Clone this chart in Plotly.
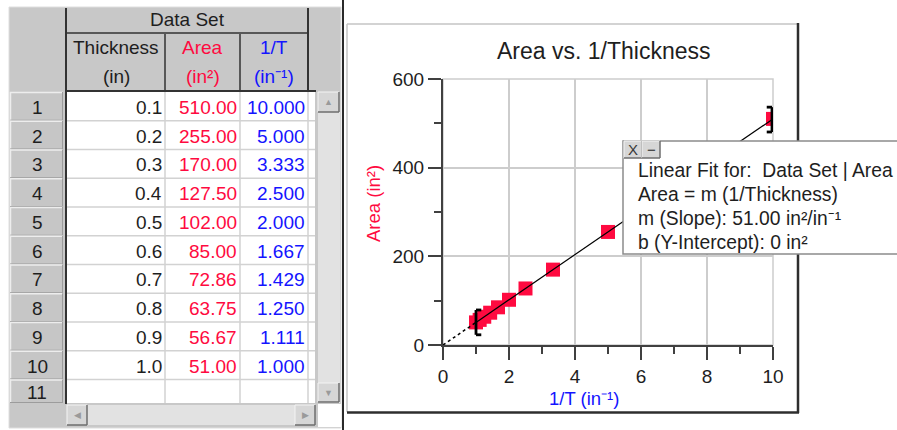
import plotly.graph_objects as go

# ---------------- data set ----------------
thickness = [0.1, 0.2, 0.3, 0.4, 0.5, 0.6, 0.7, 0.8, 0.9, 1.0]
area = [510.00, 255.00, 170.00, 127.50, 102.00, 85.00, 72.86, 63.75, 56.67, 51.00]
inv_t = [10.000, 5.000, 3.333, 2.500, 2.000, 1.667, 1.429, 1.250, 1.111, 1.000]
row_labels = ["1", "2", "3", "4", "5", "6", "7", "8", "9", "10", "11"]
col_names = ["Thickness", "Area", "1/T"]
col_units = ["(in)", "(in²)", "(in⁻¹)"]
x_ticks = [0, 2, 4, 6, 8, 10]
y_ticks = [0, 200, 400, 600]
fit_slope = 51.00
fit_intercept = 0.0

# ---------------- style ----------------
W, H = 897, 430
FONT = "Liberation Sans, Arial, sans-serif"
INK = "#1e1e1e"
RED = "#ff0a40"
BLUE = "#1414ff"
GRAY = "#c8c8c8"
DARK = "#333333"
col_colors = [INK, RED, BLUE]

shapes = []
annotations = []


def px(x):
    return x / W


def py(y):
    return 1 - y / H


def rect(x0, y0, x1, y1, fill="rgba(0,0,0,0)", line="rgba(0,0,0,0)", lw=0, layer="below"):
    shapes.append(dict(type="rect", xref="paper", yref="paper",
                       x0=px(x0), x1=px(x1), y0=py(y1), y1=py(y0),
                       fillcolor=fill, line=dict(color=line, width=lw), layer=layer))


def seg(x0, y0, x1, y1, color, lw=1, layer="below"):
    shapes.append(dict(type="line", xref="paper", yref="paper",
                       x0=px(x0), x1=px(x1), y0=py(y0), y1=py(y1),
                       line=dict(color=color, width=lw), layer=layer))


def label(x, y, text, size=19, color=INK, xanchor="center", angle=0):
    annotations.append(dict(xref="paper", yref="paper", x=px(x), y=py(y), text=text,
                            showarrow=False, xanchor=xanchor, yanchor="middle",
                            textangle=angle, font=dict(family=FONT, size=size, color=color)))


def button(x0, y0, x1, y1, glyph, gsize=9, gcolor="#9a9a9a", layer="below"):
    rect(x0, y0, x1, y1, fill="#d6d6d6", layer=layer)
    seg(x0, y0, x1, y0, "#f4f4f4", 1, layer)
    seg(x0, y0, x0, y1, "#f4f4f4", 1, layer)
    seg(x0, y1, x1, y1, "#6e6e6e", 1.5, layer)
    seg(x1, y0, x1, y1, "#6e6e6e", 1.5, layer)
    label((x0 + x1) / 2, (y0 + y1) / 2, glyph, size=gsize, color=gcolor)


# ---------------- data table ----------------
col_edges = [67, 165, 240, 308]
row_top, row_h = 92, 28.75
row_bounds = [row_top + i * row_h for i in range(len(thickness) + 1)] + [403]

rect(9, 7, 341, 428, fill=GRAY, line="#dedede", lw=1)
rect(67, 92, 315, 403, fill="white")

# body grid
for yb in row_bounds[1:-1]:
    seg(67, yb, 315, yb, "#d2d2d2", 1.5)
for xb in col_edges[1:]:
    seg(xb, 92, xb, 403, "#d2d2d2", 1.5)

# column header lines
seg(67, 33, 308, 33, DARK, 1.5)
for xb in col_edges[1:3]:
    seg(xb, 34, xb, 91, DARK, 1.5)
seg(308, 8, 308, 91, DARK, 2)
seg(65, 91, 316, 91, DARK, 2)
seg(66, 8, 66, 404, DARK, 2)

label(187, 20, "Data Set")
for i, (name, unit, colr) in enumerate(zip(col_names, col_units, col_colors)):
    cx = (col_edges[i] + col_edges[i + 1]) / 2
    label(cx, 47, name, color=colr)
    label(cx, 77, unit, color=colr)

# row header cells
for i, rl in enumerate(row_labels):
    y0, y1 = row_bounds[i], row_bounds[i + 1]
    rect(10, y0, 63, y1, fill="#c6c6c6")
    seg(10, y0 + 0.5, 63, y0 + 0.5, "#ededed", 1.5)
    seg(10.5, y0, 10.5, y1, "#ededed", 1.5)
    seg(10, y1 - 0.5, 63, y1 - 0.5, "#9c9c9c", 1)
    seg(62.5, y0, 62.5, y1, "#9c9c9c", 1)
    label(37, (y0 + y1) / 2 + 1, rl)

# cell values
for i in range(len(thickness)):
    cy = (row_bounds[i] + row_bounds[i + 1]) / 2 + 1
    label(164, cy, f"{thickness[i]:.1f}", color=INK, xanchor="right")
    label(239, cy, f"{area[i]:.2f}", color=RED, xanchor="right")
    label(307, cy, f"{inv_t[i]:.3f}", color=BLUE, xanchor="right")

# scroll bars
rect(318, 92, 340, 403, fill="#e2e2e2")
button(318, 92, 339, 112, "▲")
button(318, 383, 339, 402, "▼")
rect(67, 405, 315, 425, fill="#e2e2e2")
button(67, 405, 87, 425, "◀")
button(295, 405, 315, 425, "▶")
rect(318, 404, 341, 427, fill="white")

# divider between table and graph panels
seg(343, 0, 343, 430, "#2a2a2a", 2)

# ---------------- graph panel ----------------
rect(347, 24, 798, 412, fill="white")
seg(347, 24, 798, 24, "#c4c4c4", 1.5)
seg(347, 24, 347, 412, "#c4c4c4", 1.5)
seg(798, 23, 798, 413, "#2e2e2e", 2.5)
seg(347, 412.5, 799, 412.5, "#2e2e2e", 2.5)
rect(443, 79, 773, 345, line="#cdcdcd", lw=1.5)

label(603, 51, "Area vs. 1/Thickness", size=23)
label(584, 398, "1/T (in⁻¹)", size=18.5, color=BLUE)
label(373, 204, "Area (in²)", size=18.5, color=RED, angle=-90)

# fit range brackets (data coordinates)
x_lo, x_hi = min(inv_t), max(inv_t)
for xb, serif in ((x_lo, 0.16), (x_hi - 0.03, -0.16)):
    yc = fit_slope * xb + fit_intercept
    for (a, b, c, d) in ((xb, yc - 28, xb, yc + 28),
                         (xb, yc - 28, xb + serif, yc - 28),
                         (xb, yc + 28, xb + serif, yc + 28)):
        shapes.append(dict(type="line", xref="x", yref="y", x0=a, y0=b, x1=c, y1=d,
                           line=dict(color="black", width=2.8), layer="above"))

# linear fit readout box
rect(623, 141, 905, 254, fill="white", line="#8c8c8c", lw=1.5, layer="above")
button(624, 141, 642, 158, "X", gsize=15, gcolor="#3a3a3a", layer="above")
button(642, 141, 660, 158, "−", gsize=15, gcolor="#2a2a2a", layer="above")
fit_lines = [
    "Linear Fit for: \u00a0Data Set | Area",
    "Area = m (1/Thickness)",
    f"m (Slope): {fit_slope:.2f} in²/in⁻¹",
    f"b (Y-Intercept): {fit_intercept:.0f} in²",
]
for k, t in enumerate(fit_lines):
    label(636, 170 + k * 24.3, t, size=19.3, xanchor="left")

# ---------------- traces ----------------
fig = go.Figure()
fig.add_trace(go.Scatter(x=inv_t, y=area, mode="markers",
                         marker=dict(symbol="square", size=14, color=RED, line=dict(width=0)),
                         hoverinfo="skip"))
fig.add_trace(go.Scatter(x=[0, x_lo], y=[fit_intercept, fit_slope * x_lo + fit_intercept],
                         mode="lines", line=dict(color="black", width=1.5, dash="dot"),
                         hoverinfo="skip"))
fig.add_trace(go.Scatter(x=[x_lo, x_hi], y=[fit_slope * x_lo + fit_intercept, fit_slope * x_hi + fit_intercept],
                         mode="lines", line=dict(color="black", width=1.2), hoverinfo="skip"))

axis_common = dict(showline=True, linecolor="#404040", linewidth=2,
                   ticks="outside", ticklen=13, tickwidth=2, tickcolor="#404040",
                   showgrid=True, gridcolor="#cdcdcd", gridwidth=1.5, zeroline=False,
                   automargin=False,
                   tickfont=dict(family=FONT, size=19, color=INK), fixedrange=True)

fig.update_layout(
    width=W, height=H,
    margin=dict(l=0, r=0, t=0, b=0, pad=0, autoexpand=False),
    paper_bgcolor="white", plot_bgcolor="white",
    showlegend=False,
    xaxis=dict(domain=[px(443), px(773)], range=[0, 10], tickvals=x_ticks,
               minor=dict(dtick=1, ticks="outside", ticklen=7, tickwidth=2, tickcolor="#404040", showgrid=False),
               **axis_common),
    yaxis=dict(domain=[py(345), py(79)], range=[0, 600], tickvals=y_ticks,
               minor=dict(dtick=100, ticks="outside", ticklen=7, tickwidth=2, tickcolor="#404040", showgrid=False),
               **axis_common),
    shapes=shapes,
    annotations=annotations,
)

fig.write_html("out.html")
